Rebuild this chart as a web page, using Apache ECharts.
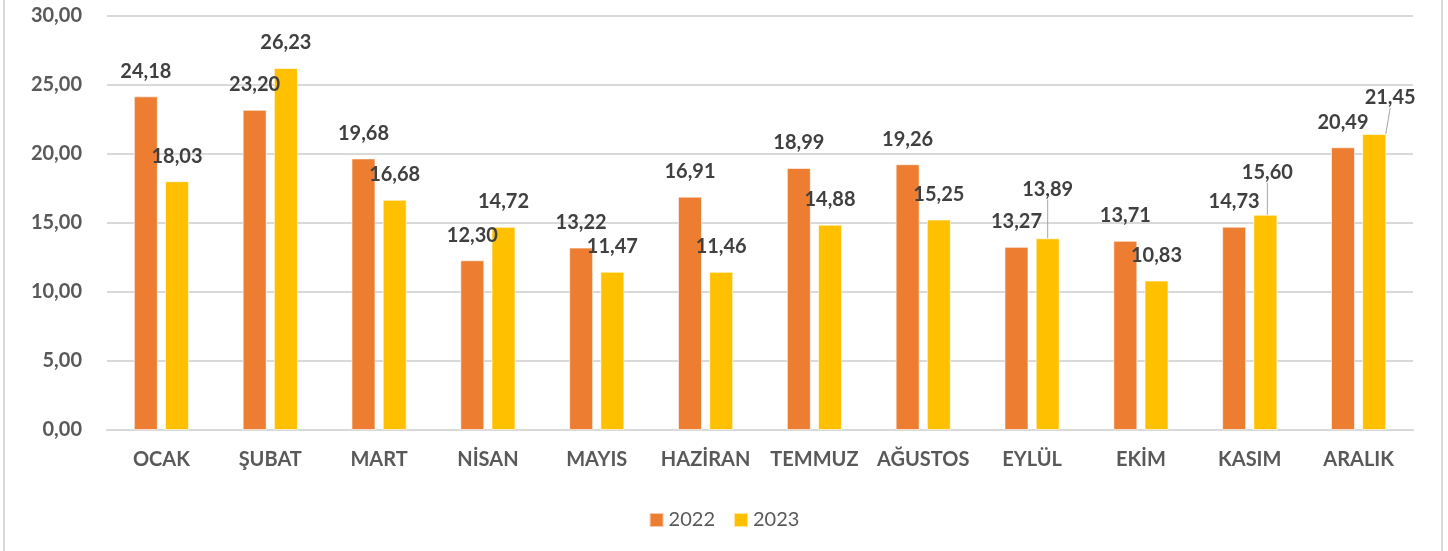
<!DOCTYPE html>
<html>
<head>
<meta charset="utf-8">
<script src="https://cdn.jsdelivr.net/npm/echarts@6/dist/echarts.min.js"></script>
<style>
  html, body { margin: 0; padding: 0; background: #fff; }
  #chart { width: 1448px; height: 551px; }
</style>
</head>
<body>
<div id="chart"></div>
<script>
// months and yearly values
const months = ['OCAK', 'ŞUBAT', 'MART', 'NİSAN', 'MAYIS', 'HAZİRAN', 'TEMMUZ', 'AĞUSTOS', 'EYLÜL', 'EKİM', 'KASIM', 'ARALIK'];
const values2022 = [24.18, 23.20, 19.68, 12.30, 13.22, 16.91, 18.99, 19.26, 13.27, 13.71, 14.73, 20.49];
const values2023 = [18.03, 26.23, 16.68, 14.72, 11.47, 11.46, 14.88, 15.25, 13.89, 10.83, 15.60, 21.45];
const yTicks = [0, 5, 10, 15, 20, 25, 30];

// a few labels were dragged away from the bar top (pixels), with a leader line
const shift2023 = { 8: [0, -24], 10: [2, -17], 11: [16, -11] };

const colors = ['#ED7D31', '#FFC000'];
const fontFam = 'Lato, "Open Sans", sans-serif';

function fmt(v) {
    return v.toFixed(2).replace('.', ',');
}

function buildData(vals, shifts) {
    return vals.map(function (v, i) {
        return { value: v, labelLine: { show: !!shifts[i] } };
    });
}

function makeSeries(name, vals, color, shifts) {
    return {
        name: name,
        type: 'bar',
        barWidth: 24,
        barGap: '30%',
        data: buildData(vals, shifts),
        itemStyle: { color: color, borderColor: 'rgba(255,255,255,0.6)', borderWidth: 1 },
        label: {
            show: true,
            position: 'top',
            distance: 15,
            fontFamily: fontFam,
            fontWeight: 'bold',
            fontSize: 20,
            lineHeight: 20,
            color: '#404040',
            formatter: function (p) { return fmt(p.value); }
        },
        labelLine: { show: false, lineStyle: { color: '#A6A6A6', width: 1 } },
        labelLayout: function (p) {
            const s = shifts[p.dataIndex];
            return s ? { dx: s[0], dy: s[1] } : {};
        }
    };
}

const chart = echarts.init(document.getElementById('chart'));
chart.setOption({
    backgroundColor: '#fff',
    animation: false,
    grid: { left: 107, right: 35, top: 16, bottom: 121 },
    graphic: [
        { type: 'line', shape: { x1: 4, y1: 0, x2: 4, y2: 551 }, style: { stroke: '#D9D9D9', lineWidth: 2 } },
        { type: 'line', shape: { x1: 1442, y1: 0, x2: 1442, y2: 551 }, style: { stroke: '#D9D9D9', lineWidth: 2 } }
    ],
    legend: {
        data: ['2022', '2023'],
        left: 'center',
        top: 505,
        icon: 'rect',
        itemWidth: 14,
        itemHeight: 14,
        itemGap: 18,
        textStyle: { fontFamily: fontFam, fontSize: 20, color: '#595959' }
    },
    xAxis: {
        type: 'category',
        data: months,
        axisTick: { show: false },
        axisLine: { lineStyle: { color: '#D9D9D9', width: 2 } },
        axisLabel: {
            margin: 20,
            interval: 0,
            fontFamily: fontFam,
            fontWeight: 'bold',
            fontSize: 20,
            color: '#595959'
        }
    },
    yAxis: {
        type: 'value',
        min: yTicks[0],
        max: yTicks[yTicks.length - 1],
        interval: yTicks[1] - yTicks[0],
        axisLine: { show: false },
        axisTick: { show: false },
        splitLine: { lineStyle: { color: '#D9D9D9', width: 2 } },
        axisLabel: {
            margin: 25,
            fontFamily: fontFam,
            fontWeight: 'bold',
            fontSize: 20,
            color: '#595959',
            formatter: function (v) { return fmt(v); }
        }
    },
    series: [
        makeSeries('2022', values2022, colors[0], {}),
        makeSeries('2023', values2023, colors[1], shift2023)
    ]
});
</script>
</body>
</html>
